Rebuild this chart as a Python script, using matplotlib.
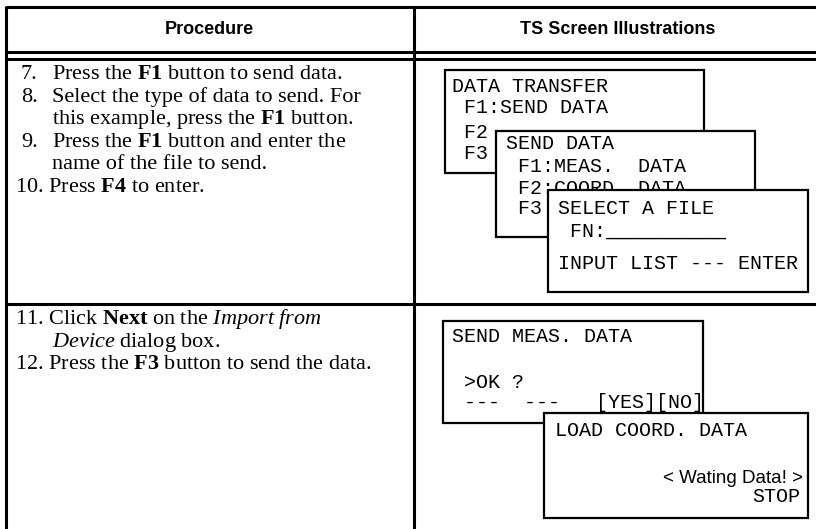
import matplotlib
matplotlib.use("Agg")
import matplotlib.pyplot as plt
from matplotlib.patches import Rectangle

plt.rcParams["mathtext.fontset"] = "custom"
plt.rcParams["mathtext.rm"] = "Liberation Serif"
plt.rcParams["mathtext.bf"] = "Liberation Serif:bold"
plt.rcParams["mathtext.it"] = "Liberation Serif:italic"

# table content
HEADERS = ["Procedure", "TS Screen Illustrations"]

# (number, lines) -- bold/italic runs via mathtext
STEPS_ROW1 = [
    ("7.", [r"Press the $\mathbf{F1}$ button to send data."]),
    ("8.", ["Select the type of data to send. For",
            r"this example, press the $\mathbf{F1}$ button."]),
    ("9.", [r"Press the $\mathbf{F1}$ button and enter the",
            "name of the file to send."]),
    ("10.", [r"Press $\mathbf{F4}$ to enter."]),
]
STEPS_ROW2 = [
    ("11.", [r"Click $\mathbf{Next}$ on the $\mathit{Import\ from}$",
             r"$\mathit{Device}$ dialog box."]),
    ("12.", [r"Press the $\mathbf{F3}$ button to send the data."]),
]

# screen contents (back to front)
SCR_DATA_TRANSFER = ["DATA TRANSFER", " F1:SEND DATA", " F2", " F3"]
SCR_SEND_DATA = ["SEND DATA", " F1:MEAS.  DATA", " F2:COORD. DATA", " F3"]
SCR_SELECT_FILE = ["SELECT A FILE", " FN:__________", "INPUT LIST --- ENTER"]
SCR_SEND_MEAS = ["SEND MEAS. DATA", " >OK ?", " ---  ---   [YES][NO]"]
SCR_LOAD_COORD = ["LOAD COORD. DATA"]
SCR_LOAD_COORD_RIGHT = ["< Wating Data! >", "STOP"]

# layout (pixel coords, y down)
W, H = 816, 529
X_LEFT, X_DIV = 5.5, 414
Y_TOP, Y_HDR1, Y_HDR2, Y_ROW = 7, 52, 59, 304

SERIF = "Liberation Serif"
MONO = "Liberation Mono"
FS_BODY = 16
FS_MONO = 14.4

fig = plt.figure(figsize=(W / 100, H / 100), dpi=100)
ax = fig.add_axes([0, 0, 1, 1])
ax.set_xlim(0, W)
ax.set_ylim(H, 0)
ax.axis("off")

# grid lines
lw = 2.2
for y in (Y_TOP, Y_HDR1, Y_HDR2, Y_ROW):
    ax.plot([X_LEFT, W], [y, y], color="black", lw=lw, solid_capstyle="butt")
for x in (X_LEFT, X_DIV):
    ax.plot([x, x], [Y_TOP - 1, H], color="black", lw=lw, solid_capstyle="butt")

# headers
ax.text((X_LEFT + X_DIV) / 2, 30, HEADERS[0], ha="center", va="center",
        family="Liberation Sans", weight="bold", fontsize=13)
ax.text(618, 30, HEADERS[1], ha="center", va="center",
        family="Liberation Sans", weight="bold", fontsize=13)


def draw_steps(steps, y0, dy=22.6):
    y = y0
    for num, lines in steps:
        if len(num) > 2:
            ax.text(15, y, num + " " + lines[0], fontsize=FS_BODY, family=SERIF, va="baseline")
        else:
            ax.text(21, y, num, fontsize=FS_BODY, family=SERIF, va="baseline")
            ax.text(52, y, lines[0], fontsize=FS_BODY, family=SERIF, va="baseline")
        y += dy
        for ln in lines[1:]:
            ax.text(52, y, ln, fontsize=FS_BODY, family=SERIF, va="baseline")
            y += dy


draw_steps(STEPS_ROW1, 79)
draw_steps(STEPS_ROW2, 324)


def draw_screen(rect, lines, x_text, baselines, z):
    x0, y0, x1, y1 = rect
    ax.add_patch(Rectangle((x0, y0), x1 - x0, y1 - y0, facecolor="white",
                           edgecolor="black", lw=1.6, zorder=z))
    for ln, yb in zip(lines, baselines):
        ax.text(x_text, yb, ln, family=MONO, fontsize=FS_MONO, va="baseline",
                zorder=z + 0.5)


draw_screen((445, 70, 704, 173), SCR_DATA_TRANSFER, 452, [92, 113, 138, 159], 2)
draw_screen((496, 131, 755, 237), SCR_SEND_DATA, 506, [149, 172, 194, 214], 3)
draw_screen((548, 190, 808, 292), SCR_SELECT_FILE, 558, [214, 237, 269], 4)
draw_screen((443, 321, 703, 423), SCR_SEND_MEAS, 452, [342, 388, 408], 2)
draw_screen((544, 413, 808, 518), SCR_LOAD_COORD, 555, [436], 3)
ax.text(803, 483, SCR_LOAD_COORD_RIGHT[0], family="Liberation Sans", fontsize=13.5,
        ha="right", va="baseline", zorder=4)
ax.text(800, 502, SCR_LOAD_COORD_RIGHT[1], family=MONO, fontsize=FS_MONO,
        ha="right", va="baseline", zorder=4)

fig.savefig("out.png", dpi=100)
